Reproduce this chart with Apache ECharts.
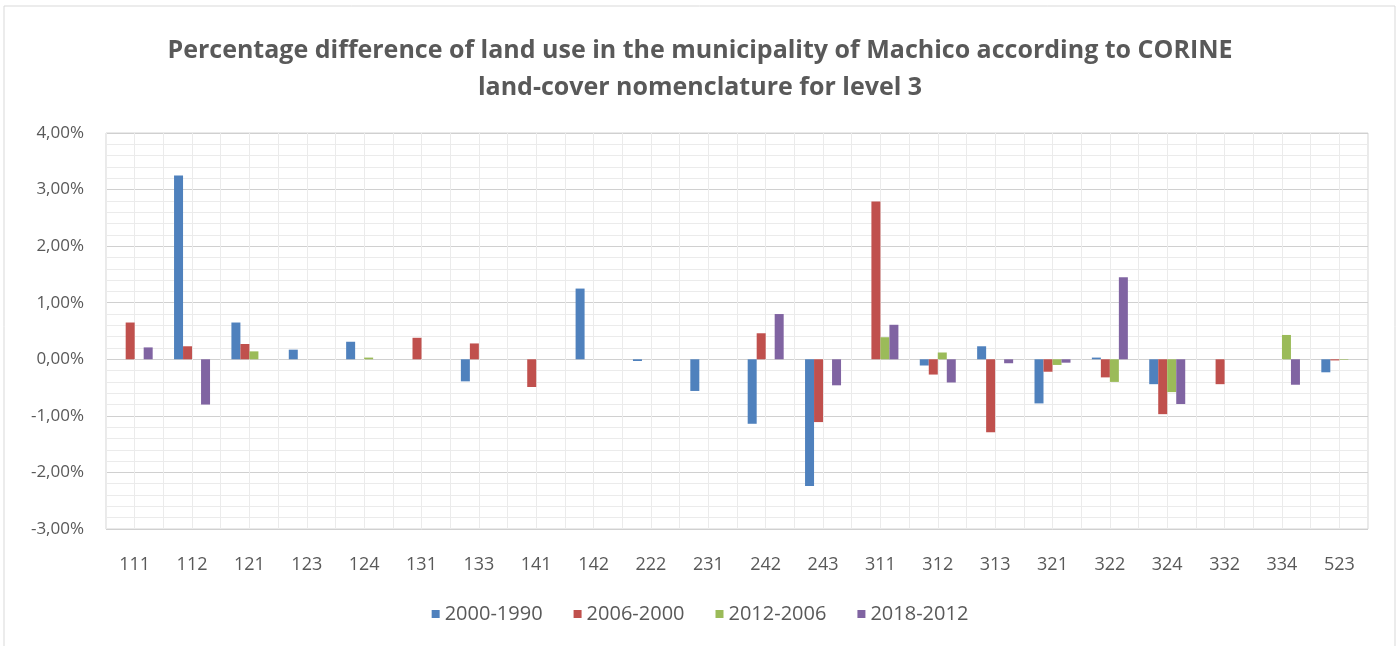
<!DOCTYPE html>
<html>
<head>
<meta charset="utf-8">
<script src="https://cdn.jsdelivr.net/npm/echarts@6/dist/echarts.min.js"></script>
<style>html,body{margin:0;padding:0;background:#fff}#c{width:1400px;height:646px}</style>
</head>
<body>
<div id="c"></div>
<script>
const categories = ['111','112','121','123','124','131','133','141','142','222','231','242','243','311','312','313','321','322','324','332','334','523'];
const seriesNames = ['2000-1990','2006-2000','2012-2006','2018-2012'];
const s2000_1990 = [0, 3.25, 0.65, 0.17, 0.31, 0, -0.39, 0, 1.25, -0.03, -0.56, -1.14, -2.24, 0, -0.11, 0.23, -0.78, 0.03, -0.44, 0, 0, -0.23];
const s2006_2000 = [0.65, 0.23, 0.27, 0, 0, 0.38, 0.28, -0.49, 0, 0, 0, 0.46, -1.11, 2.79, -0.27, -1.29, -0.22, -0.32, -0.97, -0.44, 0, -0.02];
const s2012_2006 = [0, 0, 0.14, 0, 0.03, 0, 0, 0, 0, 0, 0, 0, 0, 0.39, 0.12, 0, -0.10, -0.40, -0.58, 0, 0.43, -0.01];
const s2018_2012 = [0.21, -0.80, 0, 0, 0, 0, 0, 0, 0, 0, 0, 0.80, -0.46, 0.61, -0.41, -0.07, -0.06, 1.45, -0.79, 0, -0.45, 0];
const yTicks = { min: -3, max: 4, interval: 1 };

const colors = ['#4F81BD', '#C0504D', '#9BBB59', '#8064A2'];
const allData = [s2000_1990, s2006_2000, s2012_2006, s2018_2012];
const textColor = '#595959';
const font = '"Open Sans", Lato, sans-serif';

const chart = echarts.init(document.getElementById('c'), null, { renderer: 'canvas' });
chart.setOption({
  animation: false,
  color: colors,
  title: {
    text: 'Percentage difference of land use in the municipality of Machico according to CORINE\nland-cover nomenclature for level 3',
    left: 'center',
    top: 27,
    textStyle: { fontFamily: font, fontSize: 25, fontWeight: 'bold', color: textColor, lineHeight: 37 }
  },
  graphic: [{
    type: 'rect',
    shape: { x: 4, y: 6, width: 1391, height: 660 },
    style: { fill: 'none', stroke: '#d9d9d9', lineWidth: 1 },
    silent: true, z: -10
  }],
  legend: {
    data: seriesNames,
    bottom: 17,
    left: 'center',
    icon: 'rect',
    itemWidth: 8,
    itemHeight: 8,
    itemGap: 31,
    textStyle: { fontFamily: font, fontSize: 20, color: textColor }
  },
  grid: { left: 106, right: 32, top: 133, bottom: 117, show: true, borderColor: '#d4d4d4', borderWidth: 1 },
  xAxis: [{
    type: 'category',
    data: categories,
    axisLine: { show: false },
    axisTick: { show: false },
    axisLabel: { fontFamily: font, fontSize: 18, color: textColor, margin: 27, interval: 0 },
    splitLine: { show: true, interval: 0, lineStyle: { color: '#d0d0d0', width: 1 } }
  }, {
    type: 'value',
    min: 0, max: categories.length, interval: 0.5,
    show: true,
    position: 'top',
    axisLine: { show: false }, axisTick: { show: false }, axisLabel: { show: false },
    splitLine: { show: true, lineStyle: { color: '#ebebeb', width: 1 } },
    z: 0
  }],
  yAxis: {
    type: 'value',
    min: yTicks.min, max: yTicks.max, interval: yTicks.interval,
    axisLine: { show: false },
    axisTick: { show: false },
    axisLabel: {
      fontFamily: font, fontSize: 17, color: textColor, margin: 22,
      formatter: v => v.toFixed(2).replace('.', ',') + '%'
    },
    splitLine: { show: true, lineStyle: { color: '#d0d0d0', width: 1 } },
    minorTick: { show: false, splitNumber: 5 },
    minorSplitLine: { show: true, lineStyle: { color: '#ebebeb', width: 1 } }
  },
  series: seriesNames.map((name, i) => ({
    name: name,
    type: 'bar',
    xAxisIndex: 0,
    data: allData[i],
    barWidth: 9,
    barGap: '0%',
    itemStyle: { color: colors[i] }
  }))
});
</script>
</body>
</html>
